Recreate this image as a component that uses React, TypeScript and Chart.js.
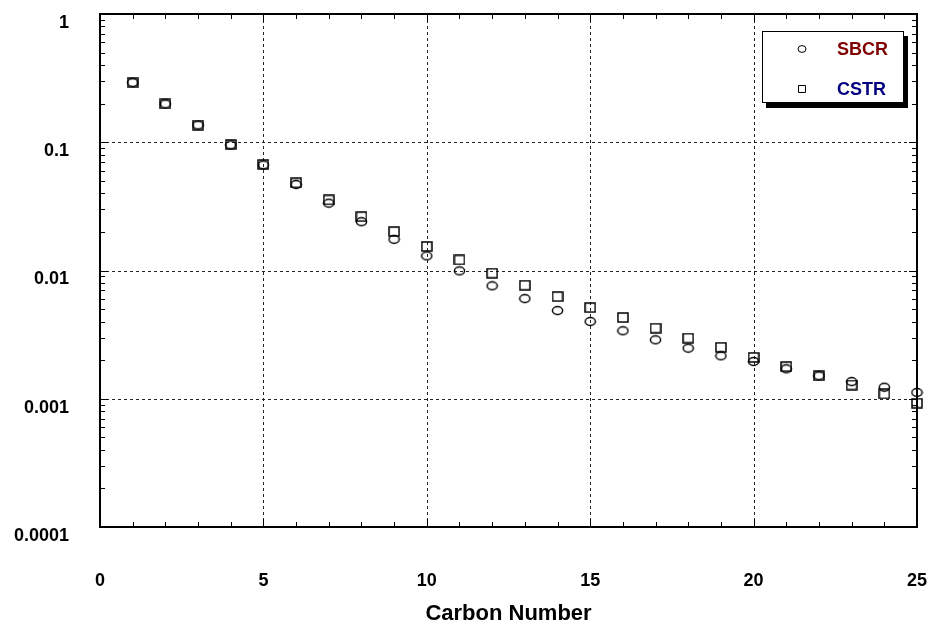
import React, { useEffect, useRef } from 'react';
import { Chart, registerables } from 'chart.js';

Chart.register(...registerables);

const carbonNumbers = [1, 2, 3, 4, 5, 6, 7, 8, 9, 10, 11, 12, 13, 14, 15, 16, 17, 18, 19, 20, 21, 22, 23, 24, 25];
const sbcrValues = [0.292, 0.199, 0.136, 0.0953, 0.0665, 0.0468, 0.0335, 0.024, 0.0175, 0.013, 0.00993, 0.00759, 0.00604, 0.00487, 0.004, 0.00339, 0.00288, 0.00248, 0.00216, 0.00195, 0.00171, 0.00151, 0.00136, 0.00123, 0.00112];
const cstrValues = [0.292, 0.199, 0.136, 0.096, 0.067, 0.0482, 0.0355, 0.0263, 0.0201, 0.0154, 0.0121, 0.00953, 0.00768, 0.00626, 0.00514, 0.0043, 0.00355, 0.00297, 0.00252, 0.0021, 0.00178, 0.00151, 0.00128, 0.00109, 0.000924];
const xTickValues = [0, 5, 10, 15, 20, 25];
const yTickValues = [0.0001, 0.001, 0.01, 0.1, 1];
const yTickLabels = ['0.0001', '0.001', '0.01', '0.1', '1'];
const seriesLabels = ['SBCR', 'CSTR'];
const seriesTextColors = ['#800000', '#000080'];
const xTitle = 'Carbon Number';

const FONT = '"Liberation Sans", Arial, Helvetica, sans-serif';

function makeCircle(): HTMLCanvasElement {
  const c = document.createElement('canvas');
  c.width = 13;
  c.height = 11;
  const g = c.getContext('2d')!;
  g.strokeStyle = '#000';
  g.lineWidth = 1.5;
  g.beginPath();
  g.ellipse(6.5, 5.5, 5.1, 3.9, 0, 0, Math.PI * 2);
  g.stroke();
  return c;
}

function makeSquare(): HTMLCanvasElement {
  const c = document.createElement('canvas');
  c.width = 12;
  c.height = 11;
  const g = c.getContext('2d')!;
  g.strokeStyle = '#000';
  g.lineWidth = 1.5;
  g.strokeRect(1, 1, 10, 9);
  return c;
}

const zeroPad = (scale: any) => {
  scale.paddingTop = 0;
  scale.paddingBottom = 0;
  scale.paddingLeft = 0;
  scale.paddingRight = 0;
};

const framePlugin = {
  id: 'frameTicks',
  beforeDatasetsDraw(chart: any) {
    const { ctx, chartArea, scales } = chart;
    const { left, right, top, bottom } = chartArea;
    const x = scales.x;
    const y = scales.y;
    ctx.save();
    ctx.strokeStyle = '#222';
    ctx.lineWidth = 1;
    ctx.setLineDash([3, 3]);
    ctx.beginPath();
    xTickValues.forEach((v) => {
      if (v <= x.min || v >= x.max) return;
      const px = Math.round(x.getPixelForValue(v)) + 0.5;
      ctx.moveTo(px, top);
      ctx.lineTo(px, bottom);
    });
    yTickValues.forEach((v) => {
      if (v <= y.min || v >= y.max) return;
      const py = Math.round(y.getPixelForValue(v)) + 0.5;
      ctx.moveTo(left, py);
      ctx.lineTo(right, py);
    });
    ctx.stroke();
    ctx.restore();
  },
  afterDraw(chart: any) {
    const { ctx, chartArea, scales } = chart;
    const { left, right, top, bottom } = chartArea;
    const x = scales.x;
    const y = scales.y;
    ctx.save();
    ctx.strokeStyle = '#000';
    ctx.lineWidth = 1;
    ctx.setLineDash([]);
    ctx.beginPath();
    for (let v = Math.ceil(x.min); v <= x.max; v++) {
      const px = Math.round(x.getPixelForValue(v)) + 0.5;
      const len = v % 5 === 0 ? 8 : 5;
      ctx.moveTo(px, bottom);
      ctx.lineTo(px, bottom - len);
      ctx.moveTo(px, top);
      ctx.lineTo(px, top + len);
    }
    for (let k = -4; k <= 0; k++) {
      for (let m = 1; m <= 9; m++) {
        const val = m * Math.pow(10, k);
        if (val > y.max * 1.0001) continue;
        const py = Math.round(y.getPixelForValue(val)) + 0.5;
        const len = m === 1 ? 8 : 5;
        ctx.moveTo(left, py);
        ctx.lineTo(left + len, py);
        ctx.moveTo(right, py);
        ctx.lineTo(right - len, py);
      }
    }
    ctx.stroke();
    ctx.lineWidth = 2;
    ctx.strokeRect(left, top, right - left, bottom - top);

    // legend
    const bx = 762;
    const by = 31;
    const bw = 142;
    const bh = 72;
    ctx.fillStyle = '#000';
    ctx.fillRect(bx + 4, by + 5, bw, bh);
    ctx.fillStyle = '#fff';
    ctx.fillRect(bx, by, bw, bh);
    ctx.lineWidth = 1;
    ctx.strokeStyle = '#000';
    ctx.strokeRect(bx + 0.5, by + 0.5, bw - 1, bh - 1);

    const rows = [49, 89];
    chart.data.datasets.forEach((ds: any, i: number) => {
      const cy = rows[i];
      ctx.strokeStyle = '#000';
      ctx.lineWidth = 1;
      ctx.beginPath();
      if (i === 0) {
        ctx.ellipse(802, cy, 4, 3.4, 0, 0, Math.PI * 2);
      } else {
        ctx.rect(798.5, cy - 3.5, 7, 7);
      }
      ctx.stroke();
      ctx.fillStyle = seriesTextColors[i];
      ctx.font = `bold 18px ${FONT}`;
      ctx.textAlign = 'left';
      ctx.textBaseline = 'middle';
      ctx.fillText(ds.label, 837, cy + 1);
    });
    ctx.restore();
  },
};

export default function App() {
  const ref = useRef<HTMLCanvasElement | null>(null);

  useEffect(() => {
    if (!ref.current) return;
    const circle = makeCircle();
    const square = makeSquare();
    const chart = new Chart(ref.current, {
      type: 'scatter',
      data: {
        datasets: [
          {
            label: seriesLabels[0],
            data: carbonNumbers.map((c, i) => ({ x: c, y: sbcrValues[i] })),
            pointStyle: circle as any,
            pointRadius: 5,
            showLine: false,
            clip: false as any,
          },
          {
            label: seriesLabels[1],
            data: carbonNumbers.map((c, i) => ({ x: c, y: cstrValues[i] })),
            pointStyle: square as any,
            pointRadius: 5,
            showLine: false,
            clip: false as any,
          },
        ],
      },
      options: {
        animation: false,
        responsive: true,
        maintainAspectRatio: false,
        layout: { padding: { top: 14, right: 14, left: 0, bottom: 0 } },
        plugins: {
          legend: { display: false },
          tooltip: { enabled: false },
        },
        scales: {
          x: {
            type: 'linear',
            min: 0,
            max: 25,
            afterBuildTicks: (scale: any) => {
              scale.ticks = xTickValues.map((v) => ({ value: v }));
            },
            afterFit: (scale: any) => {
              scale.height = 102;
              zeroPad(scale);
            },
            grid: { display: false, drawTicks: false },
            border: { display: false },
            ticks: {
              autoSkip: false,
              maxRotation: 0,
              padding: 43,
              color: '#000',
              font: { family: FONT, size: 18, weight: 'bold' },
            },
            title: {
              display: true,
              text: xTitle,
              color: '#000',
              font: { family: FONT, size: 22, weight: 'bold' },
              padding: { top: 0, bottom: 2 },
            },
          },
          y: {
            type: 'logarithmic',
            min: 0.0001,
            max: 1,
            afterBuildTicks: (scale: any) => {
              scale.ticks = yTickValues.map((v) => ({ value: v }));
            },
            afterFit: (scale: any) => {
              scale.width = 100;
              zeroPad(scale);
            },
            grid: { display: false, drawTicks: false },
            border: { display: false },
            ticks: {
              autoSkip: false,
              padding: 31,
              labelOffset: 9,
              color: '#000',
              font: { family: FONT, size: 18, weight: 'bold' },
              callback: (_v: any, i: number) => yTickLabels[i],
            },
          },
        },
      },
      plugins: [framePlugin],
    });
    return () => chart.destroy();
  }, []);

  return (
    <div style={{ position: 'fixed', left: 0, top: 0, width: 931, height: 629, background: '#fff' }}>
      <canvas ref={ref} />
    </div>
  );
}
